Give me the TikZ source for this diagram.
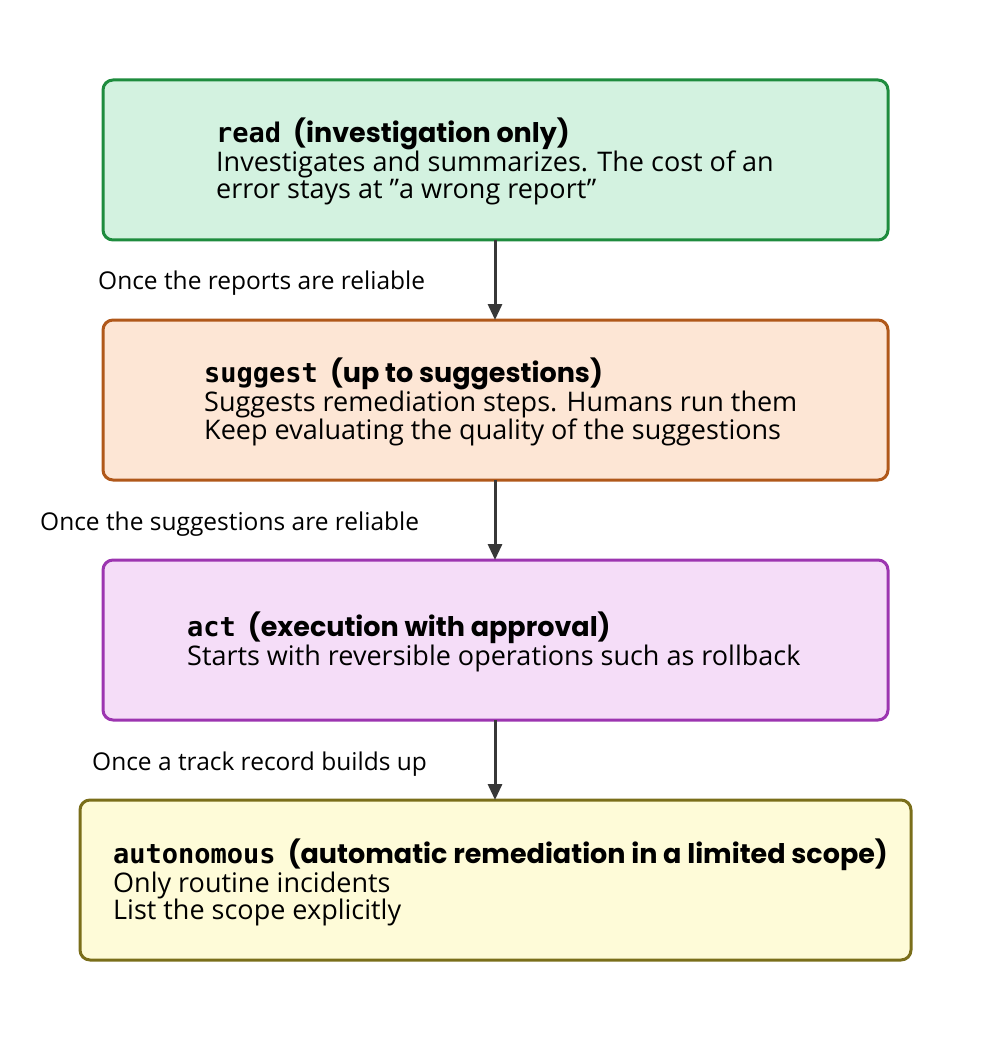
\documentclass[tikz,border=0pt]{standalone}
\usepackage{fontspec}
\setmainfont{Open Sans}
\newfontfamily\ttl{Poppins}
\newfontfamily\mono{DejaVu Sans Mono}
\usetikzlibrary{arrows.meta}
\definecolor{gF}{HTML}{D3F2E0}\definecolor{gD}{HTML}{1E8C3E}
\definecolor{oF}{HTML}{FDE6D5}\definecolor{oD}{HTML}{B0581A}
\definecolor{pF}{HTML}{F5DDF8}\definecolor{pD}{HTML}{9C35B0}
\definecolor{yF}{HTML}{FEFBD8}\definecolor{yD}{HTML}{7A6E1A}
\begin{document}
\begin{tikzpicture}[x=1pt,y=-1pt,
 box/.style={draw,line width=3pt,rounded corners=10pt},
 txt/.style={anchor=north west,align=left,inner sep=0pt,font=\fontsize{27}{27}\selectfont},
 tt/.style={font=\ttl\bfseries\fontsize{26.5}{27}\selectfont},
 lab/.style={anchor=base west,inner sep=0pt,font=\fontsize{24.5}{27}\selectfont},
 arr/.style={draw=black!78,line width=3pt,-{Triangle[length=16pt,width=14pt]}}]
\useasboundingbox (0,0) rectangle (992,1040);
\path[box,draw=gD,fill=gF] (103,80) rectangle (888,240);
\path[box,draw=oD,fill=oF] (103,320) rectangle (888,480);
\path[box,draw=pD,fill=pF] (103,560) rectangle (888,720);
\path[box,draw=yD,fill=yF] (80,800) rectangle (911,960);
\coordinate (b1) at (495,240);\coordinate (t2) at (495,320);
\coordinate (b2) at (495,480);\coordinate (t3) at (495,560);
\coordinate (b3) at (495,720);\coordinate (t4) at (495,800);
\node[txt] (n1) at (216,118) {{\mono\bfseries read}\hspace{5pt} {\ttl\bfseries (investigation only)}\\Investigates and summarizes. The cost of an\\error stays at \symbol{34}a wrong report\symbol{34}};
\node[txt] (n2) at (204,358) {{\mono\bfseries suggest}\hspace{5pt} {\ttl\bfseries (up to suggestions)}\\Suggests remediation steps. Humans run them\\Keep evaluating the quality of the suggestions};
\node[txt] (n3) at (187,612) {{\mono\bfseries act}\hspace{5pt} {\ttl\bfseries (execution with approval)}\\Starts with reversible operations such as rollback};
\node[txt] (n4) at (113,839) {{\mono\bfseries autonomous}\hspace{5pt} {\ttl\bfseries (automatic remediation in a limited scope)}\\Only routine incidents\\List the scope explicitly};
\path[arr] (b1) -- (t2);
\path[arr] (b2) -- (t3);
\path[arr] (b3) -- (t4);
\node[lab] (l1) at (98,290) {Once the reports are reliable};
\node[lab] (l2) at (40,530) {Once the suggestions are reliable};
\node[lab] (l3) at (92,770) {Once a track record builds up};
\end{tikzpicture}
\end{document}
